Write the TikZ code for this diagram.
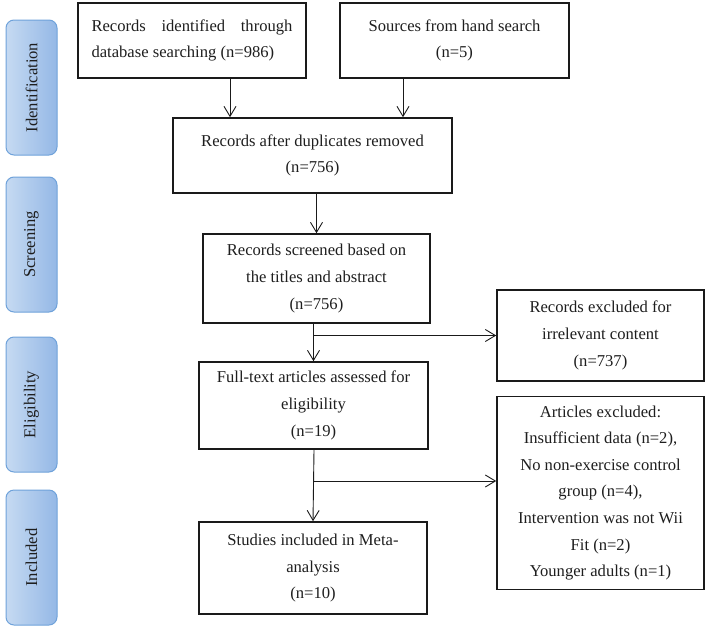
\documentclass[tikz,border=0pt]{standalone}
\usepackage{fontspec}
\setmainfont{Liberation Serif}
\usetikzlibrary{arrows.meta,shadings}
\definecolor{boxline}{HTML}{1A1A1A}
\definecolor{sideline}{HTML}{6FA2DA}
\definecolor{sideleft}{HTML}{C6DAF2}
\definecolor{sideright}{HTML}{94B8E6}
\definecolor{txt}{HTML}{1E1E1E}
\begin{document}
\begin{tikzpicture}[x=1pt,y=-1pt,
  flowbox/.style={draw=boxline,line width=1.6pt,rectangle,inner sep=0pt,align=center,
    text=txt,font=\fontsize{16.6}{26.6}\selectfont},
  sidebox/.style={draw=sideline,line width=1pt,rounded corners=8pt,
    left color=sideleft,right color=sideright,minimum width=51pt,minimum height=135pt,
    inner sep=0pt},
  sidetext/.style={rotate=90,text=txt,font=\fontsize{16.6}{20}\selectfont},
  arr/.style={draw=boxline,line width=0.9pt,-{Straight Barb[length=10pt,width=12pt]}}]
\useasboundingbox (0,0) rectangle (708,629);

% side labels
\node[sidebox] (s1) at (31.5,87.5) {};
\node[sidetext] (s1t) at (s1.center) {Identification};
\node[sidebox] (s2) at (31.5,244.5) {};
\node[sidetext] (s2t) at (s2.center) {Screening};
\node[sidebox] (s3) at (31.5,404.5) {};
\node[sidetext] (s3t) at (s3.center) {Eligibility};
\node[sidebox] (s4) at (31.5,557.5) {};
\node[sidetext] (s4t) at (s4.center) {Included};

% boxes
\node[flowbox,minimum width=228pt,minimum height=75pt,text width=201pt,align=justify] (b1) at (192,40.5)
  {Records identified through database searching (n=986)};
\node[flowbox,minimum width=229pt,minimum height=75pt] (b2) at (454.5,40.5)
  {Sources from hand search\\(n=5)};
\node[flowbox,minimum width=279pt,minimum height=75pt] (b3) at (312.5,155.5)
  {Records after duplicates removed\\(n=756)};
\node[flowbox,minimum width=227pt,minimum height=89pt] (b4) at (316.5,278.5)
  {Records screened based on\\the titles and abstract\\(n=756)};
\node[flowbox,minimum width=229pt,minimum height=87pt] (b5) at (313.5,405.5)
  {Full-text articles assessed for\\eligibility\\(n=19)};
\node[flowbox,minimum width=228pt,minimum height=92pt] (b6) at (313,568)
  {Studies included in Meta-\\analysis\\(n=10)};
\node[flowbox,minimum width=207pt,minimum height=91pt] (b7) at (600.5,335.5)
  {Records excluded for\\irrelevant content\\(n=737)};
\node[flowbox,minimum width=207pt,minimum height=193pt] (b8) at (600.5,493)
  {Articles excluded:\\Insufficient data (n=2),\\No non-exercise control\\group (n=4),\\Intervention was not Wii\\Fit (n=2)\\Younger adults (n=1)};

% connectors
\draw[arr] ([xshift=38pt]b1.south) -- ([xshift=38pt]b1.south |- b3.north);
\draw[arr] ([xshift=-51.5pt]b2.south) -- ([xshift=-51.5pt]b2.south |- b3.north);
\draw[arr] (b4.north |- b3.south) -- (b4.north);
\draw[arr] ([xshift=-3pt]b4.south) -- (b5.north);
\draw[arr] (b5.north |- b7.west) -- (b7.west);
\draw[arr] ([xshift=0.5pt]b5.south) -- (b6.north);
\coordinate (j2) at (314,481);
\draw[arr] (j2) -- (j2 -| b8.west);
\end{tikzpicture}
\end{document}
